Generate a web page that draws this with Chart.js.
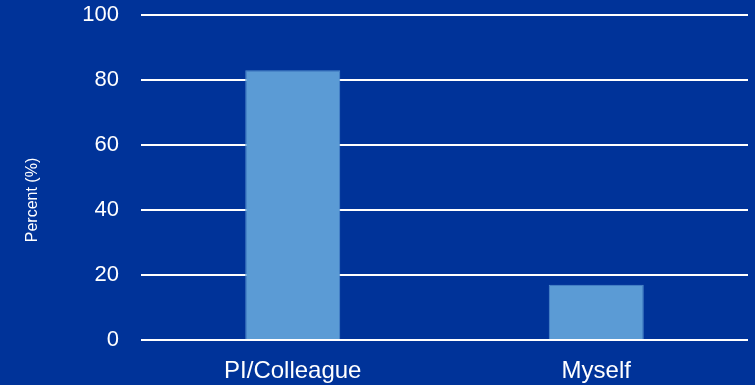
<!DOCTYPE html>
<html>
<head>
<meta charset="utf-8">
<script src="https://cdn.jsdelivr.net/npm/chart.js@4/dist/chart.umd.min.js"></script>
<style>
  html, body { margin: 0; padding: 0; background: #003399; }
  #wrap { width: 755px; height: 385px; position: relative; }
</style>
</head>
<body>
<div id="wrap"><canvas id="chart"></canvas></div>
<script>
'use strict';

var categories = ['PI/Colleague', 'Myself'];
var percents = [83, 17];
var yTicks = [0, 20, 40, 60, 80, 100];
var yTitle = 'Percent (%)';

var FONT = '"Liberation Sans", Arial, sans-serif';

// y title sits lower than the axis centre, so it is drawn by hand
var yTitlePlugin = {
  id: 'yTitle',
  afterDraw: function (chart) {
    var ctx = chart.ctx;
    ctx.save();
    ctx.translate(33, 200);
    ctx.rotate(-Math.PI / 2);
    ctx.fillStyle = '#ffffff';
    ctx.font = '16px ' + FONT;
    ctx.textAlign = 'center';
    ctx.textBaseline = 'middle';
    ctx.fillText(yTitle, 0, 0);
    ctx.restore();
  }
};

var chart = new Chart(document.getElementById('chart'), {
  type: 'bar',
  data: {
    labels: categories,
    datasets: [{
      data: percents,
      backgroundColor: '#5b9bd5',
      borderColor: '#4f8ccb',
      borderWidth: 1,
      categoryPercentage: 1,
      barPercentage: 0.313
    }]
  },
  options: {
    responsive: true,
    maintainAspectRatio: false,
    animation: false,
    layout: { padding: { top: 15, right: 7, left: 0, bottom: 0 } },
    plugins: {
      legend: { display: false },
      tooltip: { enabled: false }
    },
    scales: {
      x: {
        grid: { display: false },
        border: { display: false },
        ticks: {
          color: '#ffffff',
          font: { family: FONT, size: 24 },
          padding: 9,
          maxRotation: 0
        },
        afterFit: function (s) {
          s.height = 45;
          s.paddingLeft = 0;
          s.paddingRight = 0;
        }
      },
      y: {
        min: 0,
        max: 100,
        afterBuildTicks: function (s) {
          s.ticks = yTicks.map(function (v) { return { value: v }; });
        },
        grid: { color: '#ffffff', lineWidth: 2, drawTicks: false },
        border: { display: false },
        ticks: {
          color: '#ffffff',
          font: { family: FONT, size: 22 },
          padding: 22
        },
        afterFit: function (s) {
          s.width = 141;
          s.paddingTop = 0;
          s.paddingBottom = 0;
        }
      }
    }
  },
  plugins: [yTitlePlugin]
});
</script>
</body>
</html>
